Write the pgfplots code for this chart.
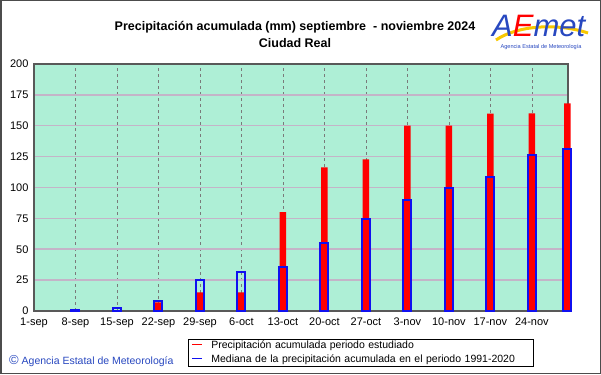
\documentclass[border=0pt]{standalone}
\usepackage{fontspec}
\setmainfont{Liberation Sans}
\usepackage{pgfplots}
\pgfplotsset{compat=1.18}
\definecolor{mint}{HTML}{AEEFD6}
\definecolor{hgrid}{HTML}{C4B4C8}
\definecolor{vgrid}{HTML}{7A7A7A}
\definecolor{aemblue}{HTML}{2848C0}
\definecolor{barblue}{HTML}{1010F0}
\definecolor{barred}{HTML}{FF0000}
\definecolor{logoyel}{HTML}{F8C800}
\begin{document}
\begin{tikzpicture}[x=1pt,y=1pt]
\fill[white] (0pt,0pt) rectangle (601pt,374pt);
\draw[gray!60!black, line width=1.5pt] (0.75pt,0.75pt) rectangle (600.25pt,373.25pt);
\node[font=\bfseries\fontsize{12.5}{14}\selectfont] at (295pt,347pt) {Precipitación acumulada (mm) septiembre \ - noviembre 2024};
\node[font=\bfseries\fontsize{12.5}{14}\selectfont] at (295pt,331pt) {Ciudad Real};
% logo
\draw[logoyel, line width=3pt] (496pt,334pt) .. controls (518pt,349pt) and (558pt,351pt) .. (588pt,341pt);
\node[font=\itshape\fontsize{31}{33}\selectfont, text=aemblue, inner sep=0pt, anchor=base west] at (492pt,337pt) {A\textcolor{red}{E}met};
\node[font=\fontsize{5.6}{6}\selectfont, text=aemblue] at (541pt,327pt) {Agencia Estatal de Meteorología};
\node[font=\fontsize{10.5}{12}\selectfont, text=aemblue, anchor=west, inner sep=0pt] at (9pt,13pt) {\fontsize{13}{14}\selectfont ©\fontsize{10.5}{12}\selectfont\ Agencia Estatal de Meteorología};
% legend
\node[draw=black, line width=0.8pt, anchor=north west, inner xsep=4pt, inner ysep=1.5pt, align=left,
  font=\fontsize{10.5}{14}\selectfont, text width=337pt] at (188pt,35pt)
  {\mbox{\textcolor{barred}{\rule[0.33em]{10pt}{1.1pt}}\hspace{9pt}Precipitación acumulada periodo estudiado}\\
   \mbox{\textcolor{barblue}{\rule[0.33em]{10pt}{1.1pt}}\hspace{9pt}Mediana de la precipitación acumulada en el periodo 1991-2020}};
\begin{axis}[at={(34pt,63pt)}, anchor=south west, scale only axis, width=534pt, height=247pt,
  xmin=0, xmax=12.87, ymin=0, ymax=200, clip=false,
  xtick={0,...,12},
  xticklabels={1-sep,8-sep,15-sep,22-sep,29-sep,6-oct,13-oct,20-oct,27-oct,3-nov,10-nov,17-nov,24-nov},
  ytick={0,25,...,200},
  major tick length=0pt,
  /pgf/number format/assume math mode=true,
  ticklabel style={font=\fontsize{11}{13}\selectfont},
  xticklabel style={yshift=-3pt},
  yticklabel style={xshift=-2pt},
  axis background/.style={fill=mint},
  xmajorgrids, ymajorgrids,
  x grid style={vgrid, dashed, line width=0.7pt},
  y grid style={hgrid, line width=1.5pt},
  axis line style={draw=gray!70!black, line width=1.2pt},
]
\addplot[ybar, bar width=6.5pt, bar shift=0pt, fill=barred, draw=none] coordinates {
 (3,7) (4,15) (5,15) (6,80) (7,116.3) (8,122.8) (9,150) (10,150.2) (11,159.8) (12,160) (12.857,168.2)
};
\addplot[ybar, bar width=8pt, bar shift=0pt, draw=barblue, fill=none, line width=2pt] coordinates {
 (1,0.6) (2,2.5) (3,8.3) (4,25) (5,31.3) (6,35.4) (7,55.3) (8,74.2) (9,89.6) (10,99.9) (11,108.5) (12,126.6) (12.857,131.2)
};
\end{axis}
\end{tikzpicture}
\end{document}
